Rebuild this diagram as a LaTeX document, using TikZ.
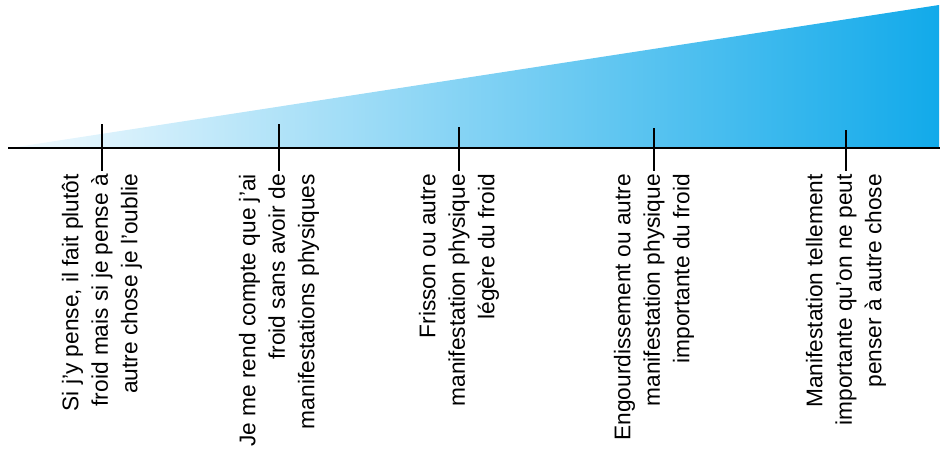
\documentclass[tikz,border=0pt]{standalone}
\usepackage{fontspec}
\setmainfont{Liberation Sans}
\definecolor{gradL}{HTML}{F2FAFE}
\definecolor{gradR}{HTML}{12AAEA}
\begin{document}
\begin{tikzpicture}[x=1pt,y=-1pt,
  axisline/.style={line width=2.2pt,black},
  ticklabel/.style={rotate=90,anchor=east,align=right,inner sep=0pt,
    font=\fontsize{22.7}{29.5}\selectfont}]
\useasboundingbox (0,0) rectangle (944,458);
\shade[left color=gradL,right color=gradR] (10,148) -- (939,5) -- (939,148) -- cycle;
\coordinate (a0) at (8,148);
\coordinate (a1) at (940,148);
\draw[axisline] (a0) -- (a1);
\foreach \x/\t/\n in {102/124/1,279/124/2,459/127/3,654/128/4,846/130/5}{
  \coordinate (t\n a) at (\x,\t);
  \coordinate (t\n b) at (\x,171);
  \draw[axisline] (t\n a) -- (t\n b);
}
\node[ticklabel] (l1) at (102,174) {Si j'y pense, il fait plutôt\\froid mais si je pense à\\autre chose je l'oublie};
\node[ticklabel] (l2) at (279,174) {Je me rend compte que j'ai\\froid sans avoir de\\manifestations physiques};
\node[ticklabel] (l3) at (459,174) {Frisson ou autre\\manifestation physique\\légère du froid};
\node[ticklabel] (l4) at (654,174) {Engourdissement ou autre\\manifestation physique\\importante du froid};
\node[ticklabel] (l5) at (846,174) {Manifestation tellement\\importante qu'on ne peut\\penser à autre chose};
\end{tikzpicture}
\end{document}
